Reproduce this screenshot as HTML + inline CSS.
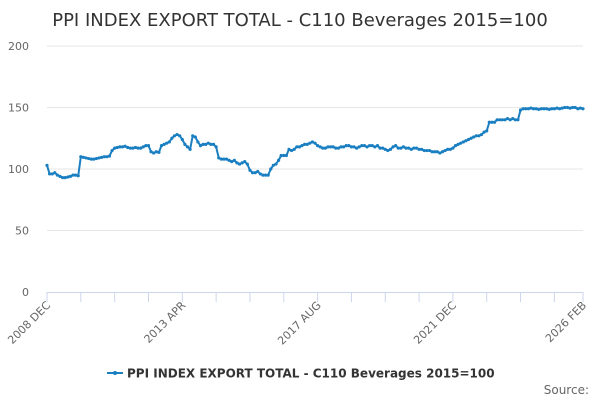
<!DOCTYPE html>
<html><head><meta charset="utf-8"><style>
html,body{margin:0;padding:0;background:#fff;}
svg text{font-family:"DejaVu Sans","Liberation Sans",sans-serif;}
</style></head><body>
<svg id="chart" width="600" height="400" xmlns="http://www.w3.org/2000/svg">
<text x="300" y="26" text-anchor="middle" font-size="18" fill="#333">PPI INDEX EXPORT TOTAL - C110 Beverages 2015=100</text>
<g id="grid"></g>
<g id="yaxis"></g>
<g id="xaxis"></g>
<g id="series"></g>
<g>
<line x1="107" y1="373" x2="123" y2="373" stroke="#1a7fc1" stroke-width="2"/>
<circle cx="115" cy="373" r="2" fill="#1a7fc1"/>
<text x="127" y="377.5" font-size="12" font-weight="bold" fill="#333">PPI INDEX EXPORT TOTAL - C110 Beverages 2015=100</text>
</g>
<text x="589" y="394" text-anchor="end" font-size="12" fill="#666">Source:</text>
</svg>
<script>
const values=[103,96,96,97,95,94,93,93,93.5,94,95,95,94.5,
110,109.5,109,108.5,108,108,108.5,109,109.5,110,110,110.5,
115,
117,117.5,118,118,118.5,117.5,117,117,117.5,117,117,118,119,
119,114,113,114,113.5,119,120,121,122,125,127,128,127,124,120,118,116,127,126,122,119,120,120,121,120,120,118,
109,108,108,108,107,106,107,105,104,105,106,104,99,97,97,98,96,95,95,95,
100,103,104,107,111,111,111,116,115,116,118,118,119,120,120,121,122,121,119,118,117,117,118,118,118,117,117,
118,118,119,119,118,118,117,118,119,119,118,119,119,118,119,117,117,116,
115,116,118,119,117,117,118,117,117,116,117,117,116,116,115,115,115,114,114,114,
113,114,115,116,116,117,119,120,121,122,123,124,125,126,127,127,128,130,131,
138,138,138,140,140,140,140,141,140,141,140,140,
148,149,149,149,149.5,149,149,148.5,149,149,149,148.5,149,149,149.5,149,149.5,150,150,149.5,150,150,149,149.5,149];
const yTicks=[0,50,100,150,200];
const xLabels=["2008 DEC","2013 APR","2017 AUG","2021 DEC","2026 FEB"];
const xLabelIdx=[0,52,104,156,206];
const NS="http://www.w3.org/2000/svg";
const X0=47,X1=583,Y0=292,Y1=46;
const xs=i=>X0+(X1-X0)*i/(values.length-1);
const ys=v=>Y0-(Y0-Y1)*v/200;
function mk(t,a,p){const e=document.createElementNS(NS,t);for(const k in a)e.setAttribute(k,a[k]);p.appendChild(e);return e;}
const grid=document.getElementById('grid'),ya=document.getElementById('yaxis'),xa=document.getElementById('xaxis'),se=document.getElementById('series');
yTicks.forEach(v=>{
 if(v>0){const g=mk('line',{x1:X0,x2:X1,y1:ys(v),y2:ys(v),stroke:'#e6e6e6','stroke-width':1},grid);
 
 }
 const t=mk('text',{x:29,y:ys(v)+4,'text-anchor':'end','font-size':11,fill:'#666'},ya);t.textContent=v;
 
 
});
mk('line',{x1:X0,x2:X1,y1:Y0+0.5,y2:Y0+0.5,stroke:'#ccd6eb','stroke-width':1},xa);
const tk=[];for(let i=0;i<values.length;i+=13)tk.push(i);tk.push(values.length-1);
tk.forEach(i=>{const l=mk('line',{x1:xs(i),x2:xs(i),y1:Y0,y2:Y0+10,stroke:'#ccd6eb','stroke-width':1},xa);
 
 });
xLabels.forEach((s,k)=>{const x=xs(xLabelIdx[k]);
 const t=mk('text',{x:x+4,y:Y0+14,'text-anchor':'end','font-size':11,fill:'#666',transform:`rotate(-45 ${x+4} ${Y0+14})`},xa);t.textContent=s;
 
 });
const d=values.map((v,i)=>(i?'L':'M')+xs(i).toFixed(2)+' '+ys(v).toFixed(2)).join(' ');
const p=mk('path',{d:d,fill:'none',stroke:'#1a7fc1','stroke-width':2,'stroke-linejoin':'round'},se);


values.forEach((v,i)=>{const c=mk('circle',{cx:xs(i),cy:ys(v),r:1.6,fill:'#1a7fc1'},se);
 
 });
</script>
</body></html>
